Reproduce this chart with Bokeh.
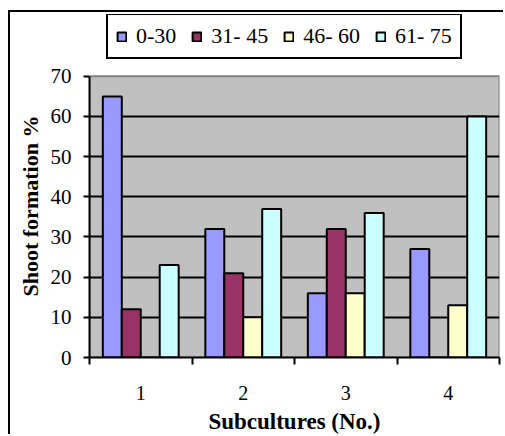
from bokeh.plotting import figure
from bokeh.models import (FixedTicker, Legend, LegendItem, Range1d, ColumnDataSource,
                          BoxAnnotation, Title)
from bokeh.embed import file_html
from bokeh.resources import INLINE
from bokeh.transform import dodge

# ---- data ----
subcultures = ["1", "2", "3", "4"]
series_names = ["0-30", "31- 45", "46- 60", "61- 75"]
v_0_30 = [65, 32, 16, 27]
v_31_45 = [12, 21, 32, 0]
v_46_60 = [0, 10, 16, 13]
v_61_75 = [23, 37, 36, 60]
y_tick_values = [0, 10, 20, 30, 40, 50, 60, 70]

colors = ["#9999FF", "#993366", "#FFFFCC", "#CCFFFF"]
FONT = "Liberation Serif"

# ---- layout (pixels) ----
MARGIN_TOP, MARGIN_LEFT = 10, 8
CANVAS_W, CANVAS_H = 505 - MARGIN_LEFT - 2, 436 - MARGIN_TOP - 2
FRAME_TOP_WIN = 14          # frame extends up to hold the legend
AXIS_TOP_WIN = 76           # where the value 70 sits
AXIS_BOTTOM_WIN = 358       # where the value 0 sits
y_min, y_max = y_tick_values[0], y_tick_values[-1]
px_per_unit = (AXIS_BOTTOM_WIN - AXIS_TOP_WIN) / (y_max - y_min)
y_end = y_max + (AXIS_TOP_WIN - FRAME_TOP_WIN) / px_per_unit

xpos = [i + 1 for i in range(len(subcultures))]
src = ColumnDataSource(dict(x=xpos, s0=v_0_30, s1=v_31_45, s2=v_46_60, s3=v_61_75))

p = figure(width=CANVAS_W, height=CANVAS_H, output_backend="svg", toolbar_location=None,
           x_range=Range1d(0.5, len(subcultures) + 0.5), y_range=Range1d(y_min, y_end),
           min_border_left=88 - MARGIN_LEFT - 2, min_border_right=6,
           min_border_top=FRAME_TOP_WIN - MARGIN_TOP - 2,
           min_border_bottom=436 - AXIS_BOTTOM_WIN,
           margin=(MARGIN_TOP, 0, 0, MARGIN_LEFT))
p.styles = {"border-left": "2px solid black", "border-top": "2px solid black"}

p.background_fill_color = "white"
p.border_fill_color = "white"
p.outline_line_color = None

# grey plot area (0..70)
plot_area = BoxAnnotation(left=0.5, right=len(subcultures) + 0.5, bottom=y_min, top=y_max,
                          fill_color="#C0C0C0", fill_alpha=1.0,
                          line_color="#808080", line_width=2, line_alpha=1.0, level="image")
p.add_layout(plot_area)

bw = 0.185
offsets = [-1.5 * bw, -0.5 * bw, 0.5 * bw, 1.5 * bw]
renderers = []
for i, col in enumerate(["s0", "s1", "s2", "s3"]):
    r = p.vbar(x=dodge("x", offsets[i]), top=col, width=bw, bottom=0, source=src,
               fill_color=colors[i], line_color="black", line_width=2)
    renderers.append(r)

# grid
p.xgrid.visible = False
p.ygrid.ticker = FixedTicker(ticks=y_tick_values[1:-1])
p.ygrid.grid_line_color = "black"
p.ygrid.grid_line_width = 2

# axes
p.yaxis.ticker = FixedTicker(ticks=y_tick_values)
p.yaxis.bounds = (y_min, y_max)
p.xaxis.ticker = FixedTicker(ticks=xpos, minor_ticks=[x - 0.5 for x in xpos] + [xpos[-1] + 0.5])
p.xaxis.major_label_overrides = {x: s for x, s in zip(xpos, subcultures)}
p.xaxis.axis_label = "Subcultures (No.)"

for ax in (p.xaxis, p.yaxis):
    ax.axis_line_color = "black"
    ax.axis_line_width = 2
    ax.major_label_text_font = FONT
    ax.major_label_text_color = "black"
    ax.axis_label_text_font = FONT
    ax.axis_label_text_font_size = "23px"
    ax.axis_label_text_font_style = "bold"
    ax.axis_label_text_color = "black"

p.yaxis.major_label_text_font_size = "21px"
p.xaxis.major_label_text_font_size = "20px"

p.yaxis.major_tick_line_color = "black"
p.yaxis.major_tick_line_width = 2
p.yaxis.major_tick_out = 6
p.yaxis.major_tick_in = 0
p.yaxis.minor_tick_line_color = None
p.yaxis.major_label_standoff = 12

p.xaxis.major_tick_line_color = None
p.xaxis.major_tick_out = 0
p.xaxis.major_tick_in = 0
p.xaxis.minor_tick_line_color = "black"
p.xaxis.minor_tick_line_width = 2
p.xaxis.minor_tick_out = 7
p.xaxis.minor_tick_in = 0
p.xaxis.major_label_standoff = 21
p.xaxis.axis_label_standoff = 6

# y-axis title, starting near the bottom of the 0..70 span
y_title = Title(text="Shoot formation %", align="left", offset=61,
                text_font=FONT, text_font_size="22px", text_font_style="bold",
                text_color="black", standoff=10)
p.add_layout(y_title, "left")

legend = Legend(items=[LegendItem(label=n, renderers=[r]) for n, r in zip(series_names, renderers)],
                orientation="horizontal", location=(17, AXIS_BOTTOM_WIN - 60),
                border_line_color="black", border_line_width=2, border_line_alpha=1.0,
                background_fill_color="white", background_fill_alpha=1.0,
                label_text_font=FONT, label_text_font_size="22px", label_text_color="black",
                glyph_width=11, glyph_height=11, label_standoff=9, spacing=15,
                padding=8, margin=0)
p.add_layout(legend, "center")

open("out.html", "w").write(file_html(p, INLINE))
